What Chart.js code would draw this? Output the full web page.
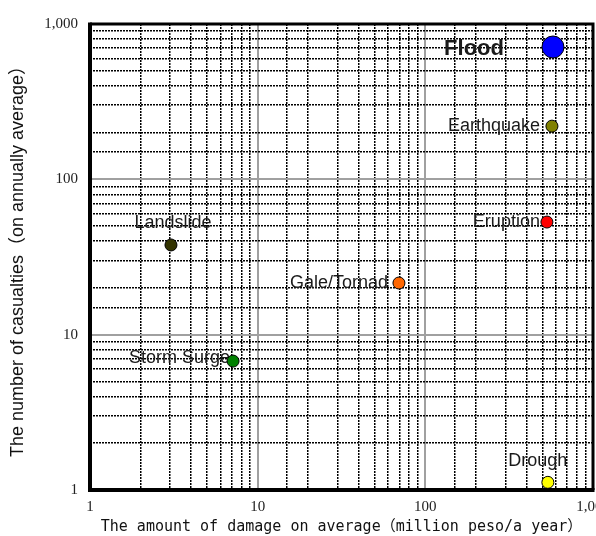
<!DOCTYPE html>
<html>
<head>
<meta charset="utf-8">
<script src="https://cdn.jsdelivr.net/npm/chart.js@4"></script>
<style>
  html, body { margin: 0; padding: 0; background: #fff; }
</style>
</head>
<body>
<canvas id="hazardChart" width="596" height="536"></canvas>
<script>
// hazards, damage (million peso / year) and casualties (per year)
const hazards = ['Flood', 'Earthquake', 'Eruption', 'Gale/Tornad', 'Landslide', 'Storm Surge', 'Drough'];
const damage = [577, 569, 531, 69.6, 3.04, 7.13, 538];
const casualties = [711, 220, 53.1, 21.5, 37.8, 6.76, 1.12];
const pointColours = ['#0000ff', '#808000', '#ff0000', '#ff6600', '#333300', '#008000', '#ffff00'];
const pointSizes = [11, 6, 6, 6, 6, 6, 6];

// labelled decades on both axes
const xTickLabels = [1, 10, 100, 1000];
const yTickLabels = [1, 10, 100, 1000];

// where each name sits next to its point
const labelPlace = {
  'Flood':       { align: 'right',  dx: -49, dy: 2,   font: 'bold 22px "Liberation Sans"' },
  'Earthquake':  { align: 'right',  dx: -12, dy: 0,   font: '18px "Liberation Sans"' },
  'Eruption':    { align: 'right',  dx: -7,  dy: 0,   font: '18px "Liberation Sans"' },
  'Gale/Tornad': { align: 'right',  dx: -11, dy: 0,   font: '18px "Liberation Sans"' },
  'Landslide':   { align: 'center', dx: 2,   dy: -22, font: '18px "Liberation Sans"' },
  'Storm Surge': { align: 'right',  dx: -3,  dy: -3,  font: '18px "Liberation Sans"' },
  'Drough':      { align: 'center', dx: -10, dy: -21, font: '18px "Liberation Sans"' }
};

const isDecade = (v) => Math.abs(Math.log10(v) - Math.round(Math.log10(v))) < 1e-9;

const pointLabels = {
  id: 'pointLabels',
  beforeDatasetsDraw(chart) {
    const ctx = chart.ctx;
    const area = chart.chartArea;
    // frame round the plot area
    ctx.save();
    ctx.strokeStyle = '#000';
    ctx.lineWidth = 3;
    ctx.beginPath();
    ctx.moveTo(area.left, area.top);
    ctx.lineTo(area.right, area.top);
    ctx.lineTo(area.right, area.bottom);
    ctx.stroke();
    ctx.lineWidth = 4;
    ctx.beginPath();
    ctx.moveTo(area.left, area.top - 1.5);
    ctx.lineTo(area.left, area.bottom);
    ctx.lineTo(area.right + 1.5, area.bottom);
    ctx.stroke();
    ctx.restore();

    const meta = chart.getDatasetMeta(0);
    meta.data.forEach((pt, i) => {
      const p = labelPlace[hazards[i]];
      ctx.save();
      ctx.font = p.font;
      ctx.fillStyle = '#1a1a1a';
      ctx.textAlign = p.align;
      ctx.textBaseline = 'middle';
      ctx.fillText(hazards[i], pt.x + p.dx, pt.y + p.dy);
      ctx.restore();
    });
  }
};

const gridStyle = {
  color: (c) => (c.tick && isDecade(c.tick.value)) ? '#a0a0a0' : '#000',
  lineWidth: (c) => (c.tick && isDecade(c.tick.value)) ? 2 : 1.5,
  drawTicks: false
};
const borderStyle = {
  display: false,
  dash: (c) => (c.tick && !isDecade(c.tick.value)) ? [2, 1] : []
};

const chartEl = document.getElementById('hazardChart');
new Chart(chartEl, {
  type: 'scatter',
  data: {
    datasets: [{
      label: 'Hazards',
      data: damage.map((d, i) => ({ x: d, y: casualties[i] })),
      backgroundColor: pointColours,
      borderColor: '#000',
      borderWidth: 1,
      pointRadius: pointSizes,
      pointHoverRadius: pointSizes
    }]
  },
  options: {
    responsive: false,
    animation: false,
    layout: { autoPadding: false, padding: { top: 24, right: 3, left: 0, bottom: 0 } },
    plugins: {
      legend: { display: false },
      tooltip: { enabled: false }
    },
    scales: {
      x: {
        type: 'logarithmic',
        min: 1,
        max: 1000,
        grid: gridStyle,
        border: borderStyle,
        ticks: {
          autoSkip: false,
          maxRotation: 0,
          padding: 8,
          color: '#222',
          font: { family: '"Liberation Serif"', size: 15 },
          callback: (v) => xTickLabels.includes(v) ? v.toLocaleString('en-US') : ''
        },
        title: {
          display: true,
          text: 'The amount of damage on average（million peso/a year）',
          color: '#111',
          font: { family: '"DejaVu Sans Mono", "Noto Sans CJK JP"', size: 15 },
          padding: { top: 0, bottom: 0 }
        },
        afterFit: (s) => { s.height = 46; s.paddingLeft = 0; s.paddingRight = 0; }
      },
      y: {
        type: 'logarithmic',
        min: 1,
        max: 1000,
        grid: gridStyle,
        border: borderStyle,
        ticks: {
          autoSkip: false,
          padding: 12,
          color: '#222',
          font: { family: '"Liberation Serif"', size: 15 },
          callback: (v) => yTickLabels.includes(v) ? v.toLocaleString('en-US') : ''
        },
        title: {
          display: true,
          text: 'The number of casualties（on annually average）',
          color: '#111',
          font: { family: '"Liberation Sans", "Noto Sans CJK JP"', size: 18 },
          padding: { top: 7, bottom: 0 }
        },
        afterFit: (s) => { s.width = 90; s.paddingTop = 0; s.paddingBottom = 0; }
      }
    }
  },
  plugins: [pointLabels]
});
</script>
</body>
</html>
